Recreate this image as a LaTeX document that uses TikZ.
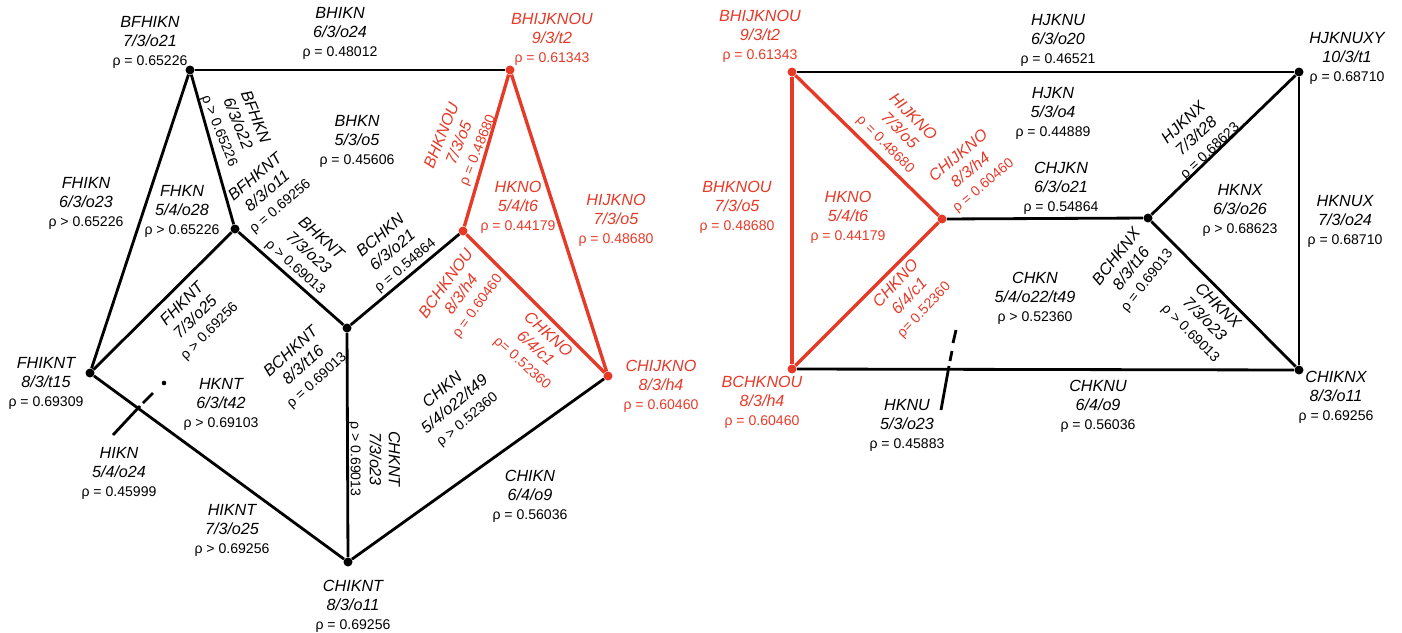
\documentclass[tikz,border=0pt]{standalone}
\usepackage{fontspec}
\setmainfont{Liberation Sans}
\definecolor{orred}{RGB}{230,58,40}
\newcommand{\rhofont}{\upshape\fontsize{8}{10}\selectfont}

\begin{document}
\begin{tikzpicture}[x=0.02cm, y=-0.02cm,
  vtx/.style={circle, fill=black, inner sep=0pt, minimum size=0.18cm},
  rvtx/.style={vtx, fill=orred},
  edge/.style={line width=1.6pt},
  redge/.style={line width=1.9pt, draw=orred},
  lbl/.style={align=center, inner sep=0pt, font=\fontsize{9.2}{10.8}\selectfont\itshape},
  rlbl/.style={lbl, text=orred}
]
  \useasboundingbox (0,0) rectangle (1402,632);

  % left graph
  \node[vtx]  (bfhikn)    at (190,70)  {};
  \node[rvtx] (bhijknouL) at (510,70)  {};
  \node[vtx]  (bfhknt)    at (235,229) {};
  \node[vtx]  (bchknt)    at (347,328) {};
  \node[rvtx] (bchknouL)  at (463,231) {};
  \node[rvtx] (chijknoL)  at (608,376) {};
  \node[vtx]  (fhiknt)    at (90,373)  {};
  \node[vtx]  (chiknt)    at (348,562) {};
  \coordinate (hiknA) at (113,435);
  \coordinate (hiknB) at (140,406);
  \coordinate (hiknC) at (143,403);
  \coordinate (hiknD) at (153,393);
  \coordinate (hiknE) at (164,383);

  \draw[edge] (bfhikn) -- (bhijknouL);
  \draw[edge] (bfhikn) -- (fhiknt);
  \draw[edge] (bfhikn) -- (bfhknt);
  \draw[edge] (bfhknt) -- (fhiknt);
  \draw[edge] (bfhknt) -- (bchknt);
  \draw[edge] (bchknt) -- (bchknouL);
  \draw[edge] (bchknt) -- (chiknt);
  \draw[edge] (fhiknt) -- (chiknt);
  \draw[edge] (chiknt) -- (chijknoL);
  \draw[redge] (bhijknouL) -- (bchknouL);
  \draw[redge] (bhijknouL) -- (chijknoL);
  \draw[redge] (bchknouL) -- (chijknoL);
  \draw[edge] (hiknA) -- (hiknB);
  \draw[edge] (hiknC) -- (hiknD);
  \fill (hiknE) circle (1.3pt);

  \node[lbl]  (lBFHIKN)  at (150,42)  {BFHIKN\\7/3/o21\\\rhofont ρ = 0.65226};
  \node[lbl]  (lBHIKN)   at (340,33)  {BHIKN\\6/3/o24\\\rhofont ρ = 0.48012};
  \node[rlbl] (lBHIJKNOU) at (552,39) {BHIJKNOU\\9/3/t2\\\rhofont ρ = 0.61343};
  \node[lbl]  (lBHKN)    at (357,141) {BHKN\\5/3/o5\\\rhofont ρ = 0.45606};
  \node[lbl]  (lFHIKN)   at (86,203)  {FHIKN\\6/3/o23\\\rhofont ρ > 0.65226};
  \node[lbl]  (lFHKN)    at (182,211) {FHKN\\5/4/o28\\\rhofont ρ > 0.65226};
  \node[lbl, rotate=-68] (lBFHKN)  at (237,124) {BFHKN\\6/3/o22\\\rhofont ρ > 0.65226};
  \node[lbl, rotate=40]  (lBFHKNT) at (268,192) {BFHKNT\\8/3/o11\\\rhofont ρ = 0.69256};
  \node[lbl, rotate=45]  (lFHKNT)  at (196,318) {FHKNT\\7/3/o25\\\rhofont ρ > 0.69256};
  \node[lbl, rotate=-42] (lBHKNT)  at (308,253) {BHKNT\\7/3/o23\\\rhofont ρ > 0.69013};
  \node[lbl, rotate=40]  (lBCHKN)  at (393,251) {BCHKN\\6/3/o21\\\rhofont ρ = 0.54864};
  \node[lbl, rotate=42]  (lBCHKNT) at (304,366) {BCHKNT\\8/3/t16\\\rhofont ρ = 0.69013};
  \node[lbl, rotate=-90] (lCHKNT)  at (374,459) {CHKNT\\7/3/o23\\\rhofont ρ > 0.69013};
  \node[lbl]  (lHKNT)    at (221,404) {HKNT\\6/3/t42\\\rhofont ρ > 0.69103};
  \node[lbl]  (lFHIKNT)  at (46,383)  {FHIKNT\\8/3/t15\\\rhofont ρ = 0.69309};
  \node[lbl]  (lHIKN)    at (119,473) {HIKN\\5/4/o24\\\rhofont ρ = 0.45999};
  \node[lbl]  (lHIKNT)   at (232,530) {HIKNT\\7/3/o25\\\rhofont ρ > 0.69256};
  \node[lbl]  (lCHIKNT)  at (353,606) {CHIKNT\\8/3/o11\\\rhofont ρ = 0.69256};
  \node[lbl]  (lCHIKN)   at (530,496) {CHIKN\\6/4/o9\\\rhofont ρ = 0.56036};
  \node[lbl, rotate=40]  (lCHKN)   at (455,405) {CHKN\\5/4/o22/t49\\\rhofont ρ > 0.52360};
  \node[rlbl, rotate=54] (lBCHKNOU) at (462,295) {BCHKNOU\\8/3/h4\\\rhofont ρ = 0.60460};
  \node[rlbl, rotate=-42] (lCHKNO) at (535,349) {CHKNO\\6/4/c1\\\rhofont ρ= 0.52360};
  \node[rlbl, rotate=68] (lBHKNOU) at (460,143) {BHKNOU\\7/3/o5\\\rhofont ρ = 0.48680};
  \node[rlbl] (lHKNO)    at (518,207) {HKNO\\5/4/t6\\\rhofont ρ = 0.44179};
  \node[rlbl] (lHIJKNO)  at (616,220) {HIJKNO\\7/3/o5\\\rhofont ρ = 0.48680};
  \node[rlbl] (lCHIJKNO) at (661,386) {CHIJKNO\\8/3/h4\\\rhofont ρ = 0.60460};

  % right graph
  \node[rvtx] (bhijknouR) at (792,72)   {};
  \node[vtx]  (hjknuxy)   at (1299,72)  {};
  \node[rvtx] (chijknoR)  at (942,219)  {};
  \node[vtx]  (bchknx)    at (1148,218) {};
  \node[rvtx] (bchknouR)  at (792,369)  {};
  \node[vtx]  (chiknx)    at (1299,370) {};
  \coordinate (hknuA) at (941,410);
  \coordinate (hknuB) at (949,366);
  \coordinate (hknuC) at (950,361);
  \coordinate (hknuD) at (952,351);
  \coordinate (hknuE) at (953,343);
  \coordinate (hknuF) at (956,330);

  \draw[edge] (bhijknouR) -- (hjknuxy);
  \draw[edge] (chijknoR) -- (bchknx);
  \draw[edge] (bchknx) -- (hjknuxy);
  \draw[edge] (bchknx) -- (chiknx);
  \draw[edge] (hjknuxy) -- (chiknx);
  \draw[edge] (bchknouR) -- (chiknx);
  \draw[redge] (bhijknouR) -- (bchknouR);
  \draw[redge] (bhijknouR) -- (chijknoR);
  \draw[redge] (chijknoR) -- (bchknouR);
  \draw[edge] (hknuA) -- (hknuB);
  \draw[edge] (hknuC) -- (hknuD);
  \draw[edge] (hknuE) -- (hknuF);

  \node[rlbl] (rBHIJKNOU) at (760,36) {BHIJKNOU\\9/3/t2\\\rhofont ρ = 0.61343};
  \node[lbl]  (rHJKNU)   at (1058,40)  {HJKNU\\6/3/o20\\\rhofont ρ = 0.46521};
  \node[lbl]  (rHJKNUXY) at (1347,58)  {HJKNUXY\\10/3/t1\\\rhofont ρ = 0.68710};
  \node[lbl]  (rHJKN)    at (1053,113) {HJKN\\5/3/o4\\\rhofont ρ = 0.44889};
  \node[rlbl, rotate=-45] (rHIJKNO) at (899,131) {HIJKNO\\7/3/o5\\\rhofont ρ = 0.48680};
  \node[rlbl, rotate=40] (rCHIJKNO) at (971,171) {CHIJKNO\\8/3/h4\\\rhofont ρ = 0.60460};
  \node[lbl]  (rCHJKN)   at (1061,188) {CHJKN\\6/3/o21\\\rhofont ρ = 0.54864};
  \node[lbl, rotate=43]  (rHJKNX)  at (1197,137) {HJKNX\\7/3/t28\\\rhofont ρ = 0.68623};
  \node[lbl]  (rHKNX)    at (1240,210) {HKNX\\6/3/o26\\\rhofont ρ > 0.68623};
  \node[lbl]  (rHKNUX)   at (1345,221) {HKNUX\\7/3/o24\\\rhofont ρ = 0.68710};
  \node[lbl, rotate=52]  (rBCHKNX) at (1132,269) {BCHKNX\\8/3/t16\\\rhofont ρ = 0.69013};
  \node[lbl, rotate=-45] (rCHKNX)  at (1204,320) {CHKNX\\7/3/o23\\\rhofont ρ > 0.69013};
  \node[lbl]  (rCHKN)    at (1035,298) {CHKN\\5/4/o22/t49\\\rhofont ρ > 0.52360};
  \node[rlbl] (rHKNO)    at (848,217)  {HKNO\\5/4/t6\\\rhofont ρ = 0.44179};
  \node[rlbl] (rBHKNOU)  at (737,207)  {BHKNOU\\7/3/o5\\\rhofont ρ = 0.48680};
  \node[rlbl, rotate=47] (rCHKNO)  at (910,297) {CHKNO\\6/4/c1\\\rhofont ρ= 0.52360};
  \node[rlbl] (rBCHKNOU) at (762,402)  {BCHKNOU\\8/3/h4\\\rhofont ρ = 0.60460};
  \node[lbl]  (rHKNU)    at (907,425)  {HKNU\\5/3/o23\\\rhofont ρ = 0.45883};
  \node[lbl]  (rCHKNU)   at (1098,406) {CHKNU\\6/4/o9\\\rhofont ρ = 0.56036};
  \node[lbl]  (rCHIKNX)  at (1336,397) {CHIKNX\\8/3/o11\\\rhofont ρ = 0.69256};
\end{tikzpicture}
\end{document}
